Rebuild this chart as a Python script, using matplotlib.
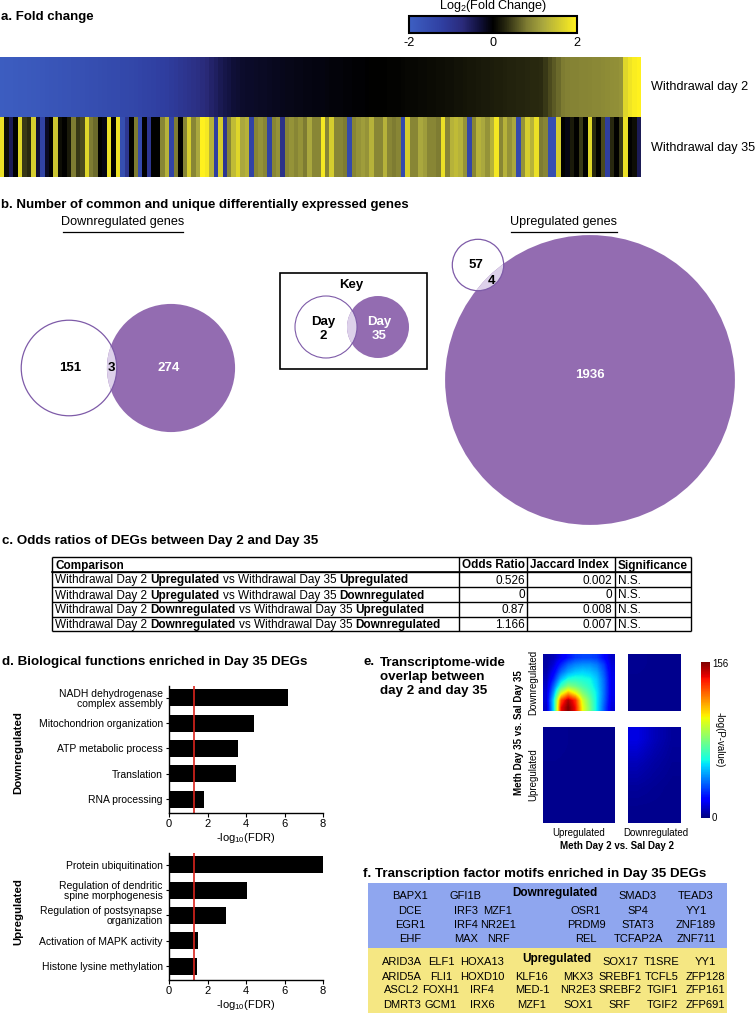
import numpy as np
import matplotlib
matplotlib.use("Agg")
import matplotlib.pyplot as plt
from matplotlib.colors import LinearSegmentedColormap, Normalize
from matplotlib.patches import Circle, Rectangle
from matplotlib.colorbar import ColorbarBase
from matplotlib import font_manager as fm

# ---------------- data ----------------
fc_day2 = [-1.95, -1.93, -1.92, -1.90, -1.88, -1.87, -1.85, -1.83, -1.82, -1.80,
           -1.78, -1.76, -1.75, -1.73, -1.71, -1.69, -1.67, -1.65, -1.63, -1.61,
           -1.59, -1.57, -1.55, -1.53, -1.51, -1.49, -1.47, -1.45, -1.43, -1.41,
           -1.38, -1.35, -1.32, -1.29, -1.26, -1.23, -1.20, -1.16, -1.12, -1.08,
           -1.03, -0.98, -0.93, -0.88, -0.83,
           -0.76, -0.69, -0.62, -0.55, -0.48, -0.42, -0.36, -0.31,
           -0.27, -0.25, -0.23, -0.22, -0.21, -0.20, -0.19, -0.18, -0.17, -0.16,
           -0.15, -0.14, -0.13, -0.12, -0.11, -0.10, -0.10, -0.09, -0.08, -0.08,
           -0.07, -0.06, -0.06, -0.05, -0.04, -0.04, -0.03, -0.02, -0.02, -0.01,
           0.00, 0.00, 0.01, 0.01, 0.02, 0.03, 0.03, 0.04, 0.05, 0.05,
           0.06, 0.07, 0.07, 0.08, 0.09, 0.10, 0.10, 0.11, 0.12, 0.13,
           0.14, 0.15, 0.16, 0.17, 0.18, 0.19, 0.20, 0.21, 0.22, 0.23,
           0.24, 0.25, 0.26, 0.27, 0.28, 0.29, 0.30, 0.31, 0.32,
           0.40, 0.50, 0.60, 0.70, 0.80,
           0.85, 0.86, 0.87, 0.88, 0.89, 0.90, 0.91, 0.92, 0.93, 0.94, 0.96, 0.98, 1.00,
           1.70, 1.85, 1.95, 2.00]
fc_day35 = [1.8, 0.1, -0.5, 0.0, 1.7, 0.4, 0.3, 1.6, -0.3, -1.3, -0.2, 0.0, 1.5, 0.1, 0.0, 0.2, 0.8,
            0.4, 0.5, 1.7, 0.8, 0.7, 0.0, -0.1, 1.8, 0.0, 1.8, -1.6, -1.0, 0.0, 0.8, -1.5, 0.0, -1.0,
            0.0, 0.0, 0.9, 1.3, -1.3, 0.8, 0.0, 0.9, 1.6, 0.9, 1.2, 2.0, 1.9, 1.3, -1.2, 1.6, -1.0,
            0.9, 1.4, 1.7, 1.2, 1.3, -1.3, 0.9, 1.0, 0.9, -1.3, 0.9, 1.0, -0.9, 0.9, 1.0, 0.9,
            1.0, 0.8, 1.2, 0.9, 0.9, 1.9, 0.9, 1.6, 0.9, 0.9, 0.8, -1.5, 0.9, 1.0, 1.1, 1.0, 1.3,
            0.9, 0.9, 1.3, 0.9, 0.8, 0.9, -1.5, 1.6, 0.9, 0.9, 1.2, 1.1, 0.9, 0.9, 0.8, 1.8,
            0.9, 1.3, 1.4, 1.3, 1.0, -1.4, 0.9, 1.3, 1.2, 1.0, 1.3, 1.9, 0.9, 1.3, 1.0, 1.2, -1.5,
            1.0, 1.6, 1.3, 1.8, 0.8, 0.9, -1.6, -1.6, 1.6, 0.0, -0.1, 0.2, 0.0, 0.4, 0.0, 1.7,
            0.3, 0.0, 0.5, -1.2, 0.3, 0.0, 0.4, 1.8, 0.0, 0.1, -0.5]
fc_row_labels = ["Withdrawal day 2", "Withdrawal day 35"]
fc_ticks = [-2, 0, 2]

down_day2_only, down_common, down_day35_only = 151, 3, 274
up_day2_only, up_common, up_day35_only = 57, 4, 1936

table_header = ["Comparison", "Odds Ratio", "Jaccard Index", "Significance"]
table_day2_dir = ["Upregulated", "Upregulated", "Downregulated", "Downregulated"]
table_day35_dir = ["Upregulated", "Downregulated", "Upregulated", "Downregulated"]
odds_ratio = ["0.526", "0", "0.87", "1.166"]
jaccard_index = ["0.002", "0", "0.008", "0.007"]
significance = ["N.S.", "N.S.", "N.S.", "N.S."]

go_down_terms = ["NADH dehydrogenase\ncomplex assembly", "Mitochondrion organization",
                 "ATP metabolic process", "Translation", "RNA processing"]
go_down_vals = [6.2, 4.4, 3.6, 3.5, 1.8]
go_up_terms = ["Protein ubiquitination", "Regulation of dendritic\nspine morphogenesis",
               "Regulation of postsynapse\norganization", "Activation of MAPK activity",
               "Histone lysine methylation"]
go_up_vals = [8.0, 4.05, 2.95, 1.52, 1.45]
fdr_threshold = 1.3
fdr_ticks = [0, 2, 4, 6, 8]

rrho_max = 156
rrho_up2_down35 = [[5, 8, 15, 22, 28, 30, 30, 28, 20, 10],
                   [5, 12, 25, 35, 40, 42, 42, 38, 28, 12],
                   [6, 18, 35, 45, 50, 52, 50, 45, 32, 14],
                   [8, 25, 48, 60, 62, 60, 58, 50, 35, 15],
                   [10, 35, 65, 80, 75, 68, 62, 52, 36, 15],
                   [12, 45, 95, 115, 100, 80, 68, 55, 36, 15],
                   [12, 55, 130, 150, 135, 95, 75, 55, 35, 14],
                   [10, 55, 140, 156, 140, 100, 78, 55, 33, 12]]
rrho_down2_down35 = [[3, 2, 2], [2, 2, 2], [2, 2, 2]]
rrho_up2_up35 = [[3, 2, 2], [2, 2, 2], [2, 2, 2]]
rrho_down2_up35 = [[14, 8, 4], [8, 5, 3], [4, 3, 2], [2, 2, 2]]

tf_down_rows = [["BAPX1", "GFI1B", None, None, "SMAD3", "TEAD3"],
                ["DCE", "IRF3", "MZF1", "OSR1", "SP4", "YY1"],
                ["EGR1", "IRF4", "NR2E1", "PRDM9", "STAT3", "ZNF189"],
                ["EHF", "MAX", "NRF", "REL", "TCFAP2A", "ZNF711"]]
tf_up_rows = [["ARID3A", "ELF1", "HOXA13", None, None, "SOX17", "T1SRE", "YY1"],
              ["ARID5A", "FLI1", "HOXD10", "KLF16", "MKX3", "SREBF1", "TCFL5", "ZFP128"],
              ["ASCL2", "FOXH1", "IRF4", "MED-1", "NR2E3", "SREBF2", "TGIF1", "ZFP161"],
              ["DMRT3", "GCM1", "IRX6", "MZF1", "SOX1", "SRF", "TGIF2", "ZFP691"]]

# ---------------- fonts ----------------
try:
    fm.findfont(fm.FontProperties(family="Liberation Sans Narrow"), fallback_to_default=False)
    NARROW = "Liberation Sans Narrow"
    NSCALE = 1.0
except Exception:
    NARROW = "Liberation Sans"
    NSCALE = 0.87
plt.rcParams["font.family"] = ["Liberation Sans", "DejaVu Sans"]
plt.rcParams["axes.linewidth"] = 1.0
plt.rcParams["axes.unicode_minus"] = False

W, H = 756, 1015
fig = plt.figure(figsize=(W / 100, H / 100), dpi=100)


def add_ax(x0, y0, x1, y1, **kw):
    return fig.add_axes([x0 / W, 1 - y1 / H, (x1 - x0) / W, (y1 - y0) / H], **kw)


ov = add_ax(0, 0, W, H)
ov.set_xlim(0, W)
ov.set_ylim(H, 0)
ov.set_axis_off()


def T(x, y, s, size=8, bold=False, ha="left", va="center", color="black", family=None, **kw):
    return ov.text(x, y, s, fontsize=size, fontweight="bold" if bold else "normal",
                   ha=ha, va=va, color=color,
                   family=family if family else ["Liberation Sans", "DejaVu Sans"], **kw)


# ---------------- panel a ----------------
T(1, 17, "a. Fold change", size=11 * NSCALE, bold=True, family=NARROW)
fc_cmap = LinearSegmentedColormap.from_list("fc", [
    (0.00, "#3d5fc2"), (0.20, "#2f3ea0"), (0.32, "#2a2a7a"), (0.42, "#10103a"),
    (0.50, "#000000"), (0.58, "#2a2a10"), (0.70, "#7d7b32"), (0.80, "#aaa83e"),
    (1.00, "#fff11e")])
fc_norm = Normalize(vmin=fc_ticks[0], vmax=fc_ticks[-1])
ax_hm = add_ax(0, 57, 641, 177)
for i, row in enumerate([fc_day2, fc_day35]):
    ax_hm.pcolormesh(np.linspace(0, 1, len(row) + 1), [i, i + 1], [row], cmap=fc_cmap,
                     norm=fc_norm, antialiased=False, linewidth=0, rasterized=True)
ax_hm.set_xlim(0, 1)
ax_hm.set_ylim(2, 0)
ax_hm.set_axis_off()
for i, lab in enumerate(fc_row_labels):
    T(651, 57 + 30 + i * 61, lab, size=10.5 * NSCALE, family=NARROW)

ax_cb = add_ax(409, 16, 577, 33)
cb = ColorbarBase(ax_cb, cmap=fc_cmap, norm=fc_norm, orientation="horizontal", ticks=fc_ticks)
cb.outline.set_linewidth(1.5)
ax_cb.tick_params(length=0, pad=3, labelsize=10.5 * NSCALE)
for t in ax_cb.get_xticklabels():
    t.set_family(NARROW)
T(493, 6, r"Log$_{\mathregular{2}}$(Fold Change)", size=10.5 * NSCALE, ha="center", family=NARROW)

# ---------------- panel b ----------------
PURPLE = "#936cb1"
LENS = "#ddd1ea"
EDGE = "#7e5ba8"
T(1, 205, "b. Number of common and unique differentially expressed genes", size=11 * NSCALE,
  bold=True, family=NARROW)


def venn(c_small, r_small, c_big, r_big, edge_lw=0.9):
    big = Circle(c_big, r_big, facecolor=PURPLE, edgecolor="none", zorder=2)
    ov.add_patch(big)
    lens = Circle(c_small, r_small, facecolor=LENS, edgecolor="none", zorder=3)
    ov.add_patch(lens)
    lens.set_clip_path(big)
    small_bg = Circle(c_small, r_small, facecolor="white", edgecolor="none", zorder=1.5)
    ov.add_patch(small_bg)
    ov.add_patch(Circle(c_small, r_small, facecolor="none", edgecolor=EDGE, lw=edge_lw, zorder=4))


NUM = 11 * NSCALE
# downregulated venn
k_down = 3.85
r_d2 = k_down * np.sqrt(down_day2_only + down_common)
r_d35 = k_down * np.sqrt(down_day35_only + down_common)
venn((69, 368), r_d2, (171, 368), r_d35)
T(70, 368, str(down_day2_only), size=NUM, bold=True, ha="center", family=NARROW, zorder=5)
T(111, 368, str(down_common), size=NUM, bold=True, ha="center", family=NARROW, zorder=5)
T(169, 368, str(down_day35_only), size=NUM, bold=True, ha="center", color="white",
  family=NARROW, zorder=5)
T(123, 222, "Downregulated genes", size=10.5 * NSCALE, ha="center", family=NARROW)
ov.plot([63, 183], [232, 232], color="black", lw=0.9)

# key
ov.add_patch(Rectangle((280, 273), 147, 96, facecolor="white", edgecolor="black", lw=1.2, zorder=1))
venn((326, 327), 31, (378, 327), 31, edge_lw=0.8)
T(351, 285, "Key", size=NUM, bold=True, ha="center", family=NARROW, zorder=5)
T(323, 329, "Day\n2", size=NUM, bold=True, ha="center", family=NARROW, zorder=5,
  linespacing=1.15)
T(379, 329, "Day\n35", size=NUM, bold=True, ha="center", color="white", family=NARROW,
  zorder=5, linespacing=1.15)

# upregulated venn
k_up = 3.29
r_u2 = k_up * np.sqrt(up_day2_only + up_common)
r_u35 = k_up * np.sqrt(up_day35_only + up_common)
venn((478, 265), r_u2, (590, 380), r_u35)
T(476, 265, str(up_day2_only), size=NUM, bold=True, ha="center", family=NARROW, zorder=5)
T(492, 281, str(up_common), size=NUM, bold=True, ha="center", family=NARROW, zorder=5)
T(590, 375, str(up_day35_only), size=NUM, bold=True, ha="center", color="white",
  family=NARROW, zorder=5)
T(564, 222, "Upregulated genes", size=10.5 * NSCALE, ha="center", family=NARROW)
ov.plot([511, 617], [232, 232], color="black", lw=0.9)

# ---------------- panel c ----------------
TITLE = 9.6
T(2, 541, "c. Odds ratios of DEGs between Day 2 and Day 35", size=TITLE, bold=True)
tx0, tx1 = 52, 691
col_x = [52, 459, 527, 615, 691]
row_y = [557, 572, 587, 602, 616.5, 631]
for y in row_y:
    ov.plot([tx0, tx1], [y, y], color="black", lw=1.0, solid_capstyle="butt")
for x in col_x:
    ov.plot([x, x], [row_y[0], row_y[-1]], color="black", lw=1.0, solid_capstyle="butt")
ov.plot([tx0, tx1], [row_y[1], row_y[1]], color="black", lw=1.2)
TS = 8.5
renderer = fig.canvas.get_renderer()


def text_width(s, bold):
    t = T(0, 0, s, size=TS, bold=bold)
    w = t.get_window_extent(renderer=renderer).width
    t.remove()
    return w


space_w = text_width("a a", False) - text_width("aa", False)


def rich(x, y, parts):
    for s, b in parts:
        t = T(x, y, s, size=TS, bold=b)
        x += t.get_window_extent(renderer=renderer).width + space_w


DY = 1.0
hy = (row_y[0] + row_y[1]) / 2 + DY
T(55, hy, table_header[0], size=TS, bold=True)
T(462, hy, table_header[1], size=TS, bold=True)
T(530, hy, table_header[2], size=TS, bold=True)
T(618, hy, table_header[3], size=TS, bold=True)
for i in range(4):
    yc = (row_y[i + 1] + row_y[i + 2]) / 2 + DY
    rich(55, yc, [("Withdrawal Day 2", False), (table_day2_dir[i], True),
                  ("vs Withdrawal Day 35", False), (table_day35_dir[i], True)])
    T(525, yc, odds_ratio[i], size=TS, ha="right")
    T(612, yc, jaccard_index[i], size=TS, ha="right")
    T(618, yc, significance[i], size=TS)

# ---------------- panel d ----------------
T(2, 662, "d. Biological functions enriched in Day 35 DEGs", size=TITLE, bold=True)


def go_panel(box, terms, vals, ylab, ylab_y):
    ax = add_ax(*box)
    ypos = np.arange(len(vals))
    ax.barh(ypos, vals, height=0.67, color="black")
    ax.axvline(fdr_threshold, color="#d9241c", lw=1.2)
    ax.set_xlim(fdr_ticks[0], fdr_ticks[-1])
    ax.set_ylim(len(vals) - 0.45, -0.47)
    ax.set_yticks(ypos)
    ax.set_yticklabels(terms, fontsize=7.5, linespacing=1.0)
    ax.set_xticks(fdr_ticks)
    ax.tick_params(axis="x", labelsize=8, length=3, width=0.8, pad=1.5)
    ax.tick_params(axis="y", length=2.5, width=0.8, pad=2)
    for s in ["top", "right"]:
        ax.spines[s].set_visible(False)
    ax.set_xlabel(r"-log$_{\mathregular{10}}$(FDR)", fontsize=8, labelpad=1)
    T(18, ylab_y, ylab, size=8.2, bold=True, ha="center", rotation=90)
    return ax


go_panel((169, 686, 323, 813), go_down_terms, go_down_vals, "Downregulated", 753)
go_panel((169, 853, 323, 980), go_up_terms, go_up_vals, "Upregulated", 912)

# ---------------- panel e ----------------
T(363, 662, "e.", size=TITLE, bold=True)
T(380, 677, "Transcriptome-wide\noverlap between\nday 2 and day 35", size=TITLE, bold=True,
  linespacing=1.2)
quads = [((543, 654, 615, 711), rrho_up2_down35), ((628, 654, 681, 711), rrho_down2_down35),
         ((543, 727, 615, 823), rrho_up2_up35), ((628, 727, 681, 823), rrho_down2_up35)]
for box, grid in quads:
    ax = add_ax(*box)
    ax.imshow(grid, cmap="jet", vmin=0, vmax=rrho_max, aspect="auto", interpolation="bilinear")
    ax.set_axis_off()
ax_rc = add_ax(701, 662, 710, 818)
cbr = ColorbarBase(ax_rc, cmap=plt.get_cmap("jet"), norm=Normalize(0, rrho_max),
                   orientation="vertical", ticks=[])
cbr.outline.set_visible(False)
T(712, 664, str(rrho_max), size=7)
T(712, 818, "0", size=7)
T(720, 740, "-log(P-value)", size=7, ha="center", rotation=-90)
T(533, 682, "Downregulated", size=7, ha="center", rotation=90)
T(533, 775, "Upregulated", size=7, ha="center", rotation=90)
T(519, 733, "Meth Day 35 vs. Sal Day 35", size=7, bold=True, ha="center", rotation=90)
T(579, 833, "Upregulated", size=7, ha="center")
T(656, 833, "Downregulated", size=7, ha="center")
T(617, 846, "Meth Day 2 vs. Sal Day 2", size=7, bold=True, ha="center")

# ---------------- panel f ----------------
T(363, 874, "f. Transcription factor motifs enriched in Day 35 DEGs", size=TITLE, bold=True)
ov.add_patch(Rectangle((368, 883), 359, 65, facecolor="#8fa6ef", edgecolor="none"))
ov.add_patch(Rectangle((368, 948), 359, 65, facecolor="#f5e783", edgecolor="none"))
down_cols = [410, 466, 498, 586, 638, 696]
down_rows_y = [896, 911, 925, 939]
for r, row in enumerate(tf_down_rows):
    for c, name in enumerate(row):
        if name:
            T(down_cols[c], down_rows_y[r], name, size=8, ha="center")
T(555, 893, "Downregulated", size=8.5, bold=True, ha="center")
up_cols = [402, 441, 482, 532, 578, 620, 662, 705]
up_rows_y = [962, 977, 990, 1005]
for r, row in enumerate(tf_up_rows):
    for c, name in enumerate(row):
        if name:
            T(up_cols[c], up_rows_y[r], name, size=8, ha="center")
T(557, 959, "Upregulated", size=8.5, bold=True, ha="center")

fig.savefig("out.png", dpi=100)
